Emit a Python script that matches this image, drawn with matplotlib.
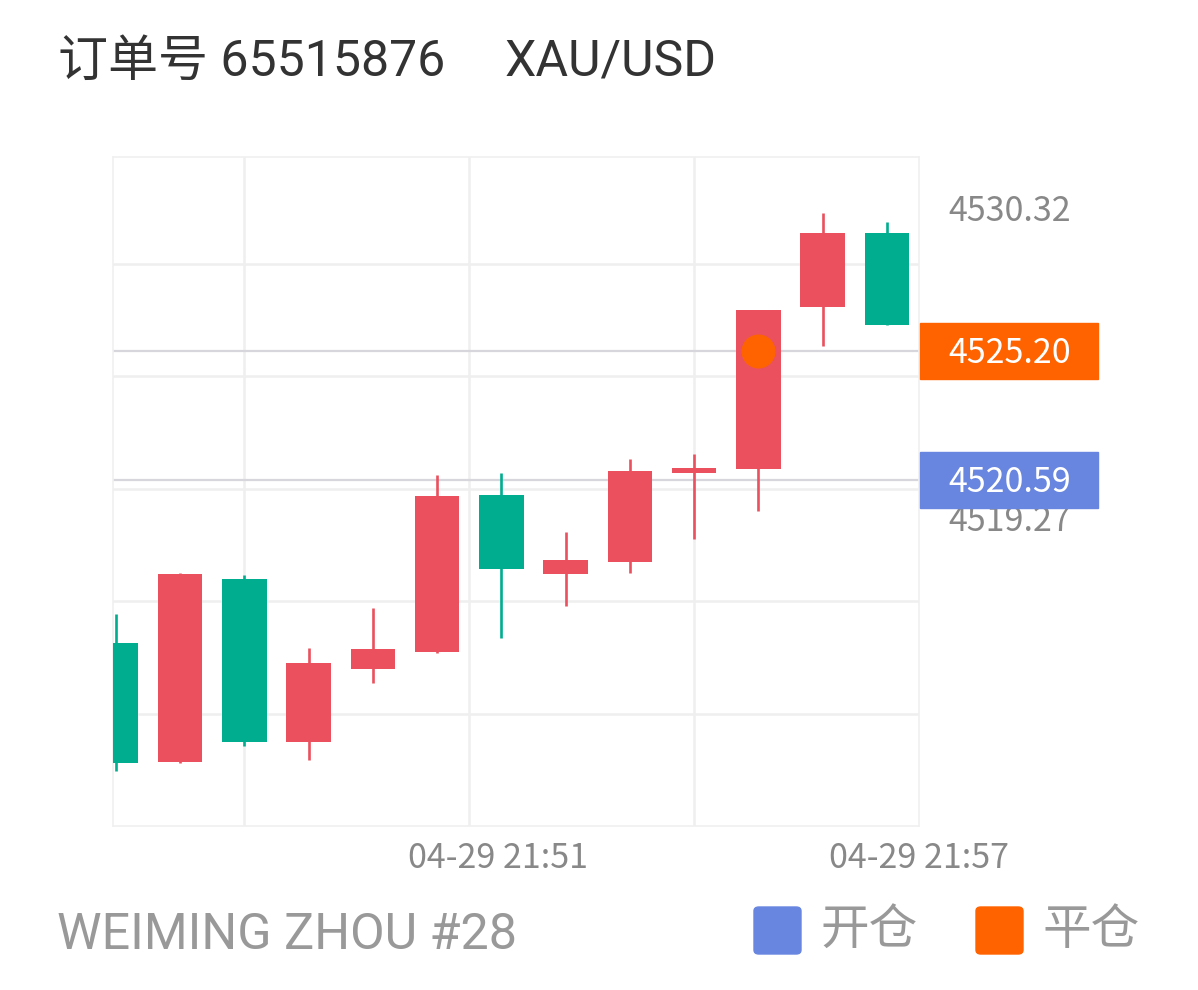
import numpy as np
import matplotlib
matplotlib.use("Agg")
import matplotlib.pyplot as plt
from matplotlib.patches import Rectangle, FancyBboxPatch
from matplotlib.transforms import blended_transform_factory

plt.rcParams['font.family'] = ['Roboto', 'Noto Sans CJK SC']

# ── 数据 ────────────────────────────────────────────────
opens  = [4514.79, 4510.53, 4517.05, 4511.24, 4513.86, 4514.46, 4520.06,
          4517.23, 4517.68, 4520.83, 4520.98, 4526.76, 4529.41]
highs  = [4515.80, 4517.29, 4517.20, 4514.60, 4516.04, 4520.79, 4520.86,
          4518.73, 4521.36, 4521.51, 4526.65, 4530.13, 4529.79]
lows   = [4510.23, 4510.49, 4511.11, 4510.61, 4513.36, 4514.42, 4514.97,
          4516.09, 4517.27, 4518.49, 4519.49, 4525.38, 4526.12]
closes = [4510.51, 4517.25, 4511.25, 4514.06, 4514.57, 4520.04, 4517.42,
          4517.76, 4520.92, 4521.01, 4526.65, 4529.40, 4526.12]

open_price = 4520.59     # 开仓
close_price = 4525.20    # 平仓
close_idx = 10

grid_prices = [4528.30, 4524.29, 4520.28, 4516.28, 4512.26]
grid_x = [2, 5.5, 9]
xtick_pos = [5.94, 12.5]
xtick_labels = ["04-29 21:51", "04-29 21:57"]
ytick_vals = [4519.27, 4530.32]

UP = "#EA505E"
DOWN = "#00AE8F"
OPEN_C = "#6886E0"
CLOSE_C = "#FF6300"

fig = plt.figure(figsize=(11.98, 9.9), dpi=100)
W, H = 1198, 990
ax = fig.add_axes([112.7 / W, 1 - 825.7 / H, (919 - 112.7) / W, (825.7 - 156.7) / H])
ax.set_xlim(-0.05, 12.48)
ax.set_ylim(4508.27, 4532.12)

for s in ax.spines.values():
    s.set_color("#F0F0F0")
    s.set_linewidth(1.2)

# 网格
for g in grid_prices:
    ax.axhline(g, color="#EFEFEF", lw=1.8, zorder=0)
for g in grid_x:
    ax.axvline(g, color="#EFEFEF", lw=1.8, zorder=0)

# 开仓/平仓 价位线
ax.axhline(open_price, color="#D6D6DC", lw=1.6, zorder=1)
ax.axhline(close_price, color="#D6D6DC", lw=1.6, zorder=1)

# K线
x = np.arange(len(opens))
o = np.array(opens); c = np.array(closes)
colors = [UP if cc >= oo else DOWN for oo, cc in zip(o, c)]
ax.vlines(x, lows, highs, colors=colors, lw=1.9, zorder=2)
ax.bar(x, np.maximum(np.abs(c - o), 0.12), bottom=np.minimum(o, c), width=0.69,
       color=colors, zorder=3)

ax.plot([close_idx], [close_price], "o", color=CLOSE_C, ms=23.5, zorder=4)

# 坐标轴标签
ax.set_xticks(xtick_pos)
ax.set_xticklabels(xtick_labels)
ax.yaxis.tick_right()
ax.set_yticks(ytick_vals)
ax.set_yticklabels([f"{v:.2f}" for v in ytick_vals])
ax.tick_params(length=0, colors="#888888", labelsize=24.5)
ax.tick_params(axis="x", pad=11)
ax.tick_params(axis="y", pad=21)
for lab in ax.get_xticklabels() + ax.get_yticklabels():
    lab.set_family(['Noto Sans CJK SC'])
    lab.set_zorder(1)

# 右侧价格标签
tr = blended_transform_factory(fig.transFigure, ax.transData)
for price, col in [(close_price, CLOSE_C), (open_price, OPEN_C)]:
    ax.add_patch(Rectangle((920 / W, price - 0.998), 178 / W, 1.996, transform=tr,
                           color=col, clip_on=False, zorder=10))
    ax.text(948 / W, price - 0.1, f"{price:.2f}", transform=tr, color="white",
            fontsize=24.5, family=['Noto Sans CJK SC'], va="center", ha="left",
            zorder=11, clip_on=False)

# 标题
fig.text(58 / W, 1 - 76 / H, "订单号 65515876", fontsize=36, color="#333333",
         va="baseline", ha="left")
fig.text(505 / W, 1 - 76 / H, "XAU/USD", fontsize=36, color="#333333",
         va="baseline", ha="left")

# 底部
fig.text(57 / W, 1 - 949 / H, "WEIMING ZHOU #28", fontsize=36.2, color="#999999",
         va="baseline", ha="left")
for x0, col, lab in [(754, OPEN_C, "开仓"), (976, CLOSE_C, "平仓")]:
    fig.patches.append(FancyBboxPatch((x0 / W, 1 - 954 / H), 47 / W, 47 / H,
                                      boxstyle="round,pad=0,rounding_size=0.004",
                                      transform=fig.transFigure, color=col))
    fig.text((x0 + 66) / W, 1 - 930.5 / H, lab, fontsize=35, color="#999999",
             va="center", ha="left", family=['Noto Sans CJK SC'])

fig.savefig("out.png", dpi=100)
